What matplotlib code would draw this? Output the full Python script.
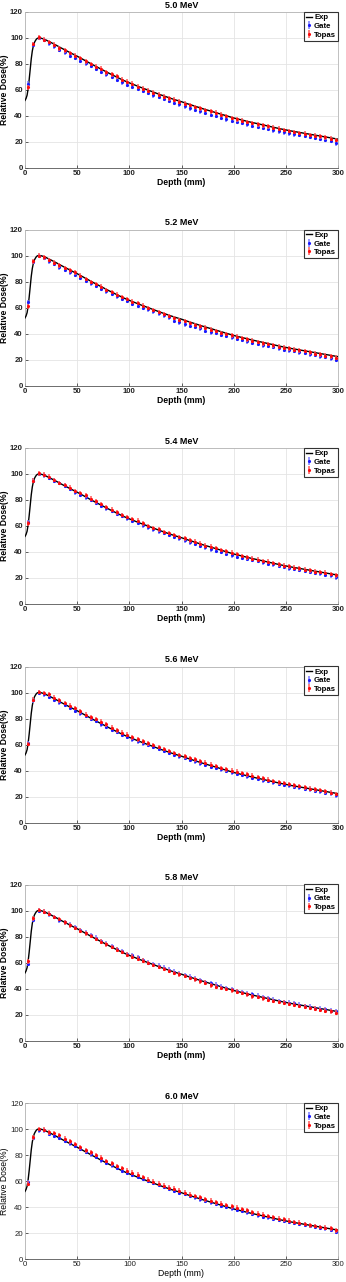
import matplotlib
matplotlib.use("Agg")
import matplotlib.pyplot as plt
import numpy as np

plt.rcParams['font.family'] = ['Liberation Sans', 'DejaVu Sans']

energies = ["5.0 MeV", "5.2 MeV", "5.4 MeV", "5.6 MeV", "5.8 MeV", "6.0 MeV"]

exp_depth = [0, 1, 2, 3, 4, 5, 6, 7, 8, 9, 10, 11, 12, 13, 14, 15, 16, 18, 20,
             25, 30, 35, 40, 45, 50, 55, 60, 65, 70, 75, 80, 85, 90, 95, 100,
             105, 110, 115, 120, 125, 130, 135, 140, 145, 150, 155, 160, 165, 170,
             175, 180, 185, 190, 195, 200, 205, 210, 215, 220, 225, 230, 235, 240,
             245, 250, 255, 260, 265, 270, 275, 280, 285, 290, 295, 300]
exp_dose = [52, 53.5, 56, 61, 68, 76, 84, 90, 94, 96.5, 98, 99.2, 99.8, 100, 100,
            99.9, 99.7, 99.2, 98.5,
            96.5, 94.4, 92.2, 90.1, 88.0, 86.0, 83.8, 81.6, 79.4, 77.3, 75.2, 73.1,
            71.1, 69.1, 67.2, 65.5,
            63.9, 62.3, 60.8, 59.3, 57.8, 56.3, 54.9, 53.5, 52.2, 51.0, 49.6, 48.3,
            47.0, 45.7, 44.5, 43.3, 42.1, 40.9, 39.7, 38.5, 37.5, 36.5, 35.5, 34.6,
            33.7, 32.8, 31.9, 31.0, 30.1, 29.3, 28.5, 27.8, 27.1, 26.4, 25.7, 25.0,
            24.3, 23.6, 22.9, 22.2]

sim_depth = [3, 8, 13, 18, 23, 28, 33, 38, 43, 48, 53, 58, 63, 68, 73, 78, 83, 88,
             93, 98, 103, 108, 113, 118, 123, 128, 133, 138, 143, 148, 153, 158, 163,
             168, 173, 178, 183, 188, 193, 198, 203, 208, 213, 218, 223, 228, 233,
             238, 243, 248, 253, 258, 263, 268, 273, 278, 283, 288, 293, 298]

gate_50 = [65, 95, 100, 98.5, 96, 93.5, 91, 89, 86.5, 85, 82.5, 80.5, 78.5, 76.5, 74,
           72, 70, 68, 66, 64, 62.5, 61, 59.5, 58, 56, 54.5, 53, 51.5, 50, 49, 47.5,
           46, 45, 43.5, 42.5, 41, 40, 38.8, 37.5, 36.5, 35.5, 34.5, 33.5, 32.5, 31.5,
           30.8, 30, 29, 28.3, 27.5, 26.8, 26, 25.3, 24.6, 24, 23.3, 22.5, 21.8, 21, 19]
topas_50 = [62, 95.5, 100.5, 98.8, 97, 94.8, 92, 90.5, 88.5, 86.5, 84.5, 82, 80, 78,
            76.5, 73.5, 72, 70.5, 68, 66.5, 65, 62.5, 61, 59.5, 58, 56.5, 55, 53.5,
            52.5, 51, 49.5, 48.5, 47, 46, 44.5, 43.5, 42.5, 41, 40, 38.5, 37.5, 36.5,
            35.5, 34.5, 33.5, 32.8, 32, 31, 30.3, 29.3, 28.5, 27.8, 27, 26.3, 25.5, 25,
            24.3, 23.5, 22.5, 21.5]

gate_52 = [64, 95, 99.5, 98, 95.5, 93.5, 91, 89, 87, 85, 83, 80.5, 78.5, 76.5, 74.5,
           72.5, 70.5, 68.5, 66.5, 65, 63, 61.5, 60, 58.5, 57, 55.5, 54, 52.5, 50,
           48.5, 47, 46, 45, 44, 42, 41, 40.5, 39, 38, 37, 36, 35, 34, 33, 32, 31,
           30.3, 29.5, 28.5, 27.5, 27, 26.5, 25.5, 25, 24, 23.5, 22.5, 22, 21, 20]
topas_52 = [61, 95.5, 100, 98.5, 96.5, 94.5, 92.5, 90.5, 88.5, 87, 84.5, 82, 79.5, 78,
            76, 73.5, 72, 70, 68, 66.5, 64.5, 63.5, 61.5, 59.5, 58, 56.5, 55, 53.5, 52,
            50.5, 49.5, 48, 46.5, 45.5, 44.5, 43, 42, 40.5, 39.5, 38.5, 37.5, 36.5,
            35.5, 34.5, 33.5, 32.5, 32, 31, 30, 29, 28.5, 27.5, 27, 26.5, 25.5, 24.5,
            24, 23, 22.5, 21.5]

gate_54 = [63, 95, 100, 99, 97, 95, 93, 91, 88.5, 86, 84, 82, 80, 78, 75.5, 73.5, 71.5,
           69.5, 68, 66, 64, 62.5, 60.5, 59, 57.5, 56, 54.5, 53, 51.5, 50.5, 49, 47.5,
           46.5, 45, 43.5, 42, 41, 40, 38.5, 37.5, 36.5, 35.5, 34.5, 34, 33, 32, 31,
           30.5, 29.5, 28.5, 27.5, 27, 26.5, 25.5, 25, 24, 23.5, 22.5, 22, 20.5]
topas_54 = [62, 95, 100.5, 99.5, 98, 95.5, 93, 91.5, 89.5, 87, 85.5, 83.5, 81, 79, 77,
            74.5, 72.5, 70.5, 68.5, 67, 65.5, 64, 62, 60, 58.5, 57.5, 55.5, 54.5, 53,
            51.5, 50.5, 49, 48, 46.5, 45, 44, 43, 41.5, 40.5, 39.5, 38.5, 37, 36, 35, 34,
            33, 32.5, 31.5, 30.5, 29.5, 29, 28, 27.5, 26.5, 26, 25, 24.5, 24, 23, 22]

gate_56 = [61, 94, 100, 98.5, 96.5, 94.5, 92.5, 90.5, 88, 86, 84, 82, 80, 78, 75.5,
           73.5, 71.5, 69.5, 67.5, 66, 64, 62.5, 61, 59.5, 58, 56.5, 55, 53.5, 52, 51,
           49.5, 48, 47, 45.5, 44.5, 43, 42, 41, 39.5, 38.5, 37.5, 36.5, 35.5, 34.5,
           33.5, 32.5, 32, 31, 30, 29, 28.5, 27.5, 27, 26, 25.5, 24.5, 24, 23, 22.5, 21]
topas_56 = [60.5, 94.5, 100.5, 99.5, 98.5, 96, 94, 92, 90, 88, 85.5, 83, 81, 79.5, 77.5,
            75.5, 73, 71, 69, 67.5, 65.5, 64, 62.5, 61, 59.5, 58, 56.5, 55, 53.5, 52,
            51, 49.5, 48.5, 47, 46, 44.5, 43.5, 42, 41, 40, 39, 38, 37, 36, 35, 34, 33,
            32, 31, 30.5, 29.5, 28.5, 28, 27, 26, 25.5, 25, 24, 23, 22]

gate_58 = [59, 93, 100, 99, 97, 95, 92.5, 91, 89, 87, 85, 83, 81, 79, 76.5, 74.5, 72.5,
           70.5, 68.5, 66.5, 65.5, 64, 62, 60, 58.5, 57.5, 56, 54.5, 53, 51.5, 50.5, 49,
           47.5, 46.5, 45, 44, 43, 41.5, 40.5, 39.5, 38, 37, 36, 35.5, 34.5, 33.5, 32.5,
           31.5, 30.5, 29.5, 29, 28.5, 27.5, 26.5, 26, 25, 24.5, 24, 23, 22.5]
topas_58 = [61, 94, 100.5, 99, 97.5, 95, 93.5, 91, 88.5, 86.5, 84.5, 82.5, 80.5, 78, 76,
            74, 72, 70, 68, 66, 64.5, 63, 61.5, 59.5, 58, 56.5, 55, 53.5, 52, 51, 49.5,
            48, 47, 45.5, 44.5, 42.5, 41.5, 40.5, 39.5, 38.5, 37.5, 36.5, 35.5, 34,
            33.5, 32.5, 31.5, 30.5, 29.5, 29, 28, 27.5, 26.5, 26, 25, 24.5, 23.5, 23,
            22.5, 21.5]

gate_60 = [59, 93, 99, 99, 96.5, 94.5, 93, 91, 89, 87, 85, 82.5, 80.5, 78.5, 76, 74, 72,
           70, 68, 66.5, 64.5, 63, 61.5, 60, 58.5, 57, 55.5, 54, 52.5, 51, 50, 48.5,
           47.5, 46, 45, 43.5, 42.5, 41, 40, 39, 38, 37, 36, 35, 33.5, 32.5, 32, 31, 30,
           29.5, 28.5, 28, 27, 26.5, 25.5, 25, 24, 23.5, 22.5, 21]
topas_60 = [58, 93.5, 100, 99.5, 97.5, 97, 95.5, 92.5, 90.5, 88.5, 86, 83.5, 82, 80, 78,
            75.5, 73.5, 71.5, 70, 68, 66.5, 65, 63, 61, 59.5, 58, 56.5, 55, 54, 52.5,
            51, 49.5, 48.5, 47.5, 46, 45, 43.5, 42.5, 41.5, 40.5, 39.5, 38.5, 37.5, 36,
            35, 34, 33, 32, 31, 30.5, 29.5, 28.5, 28, 27, 26, 25.5, 24.5, 24, 23.5, 22]

gate_sets = [gate_50, gate_52, gate_54, gate_56, gate_58, gate_60]
topas_sets = [topas_50, topas_52, topas_54, topas_56, topas_58, topas_60]
gate_err = 1.8
topas_err = 1.8

x_ticks = [0, 50, 100, 150, 200, 250, 300]
y_ticks = [0, 20, 40, 60, 80, 100, 120]

W, H = 346, 1282
fig = plt.figure(figsize=(W / 100, H / 100), dpi=100)

ax_tops = [12, 229.5, 448, 666.5, 884.5, 1103]
ax_h = 156
left, right = 25, 338

for i in range(6):
    top = ax_tops[i]
    ax = fig.add_axes([left / W, 1 - (top + ax_h) / H, (right - left) / W, ax_h / H])
    weight = 'bold' if i < 5 else 'normal'
    ax.plot(exp_depth, exp_dose, color='black', lw=1.0, label='Exp', zorder=3)
    ax.errorbar(sim_depth, gate_sets[i], yerr=gate_err, fmt='.', color='#1a1aff',
                ecolor='#7a7aff', markersize=2.5, elinewidth=1.1, capsize=0,
                label='Gate', zorder=4)
    ax.errorbar(sim_depth, topas_sets[i], yerr=topas_err, fmt='.', color='#ff0a0a',
                ecolor='#ff5a5a', markersize=2.5, elinewidth=1.1, capsize=0,
                label='Topas', zorder=5)
    ax.set_xlim(0, 300)
    ax.set_ylim(0, 120)
    ax.set_xticks(x_ticks)
    ax.set_yticks(y_ticks)
    ax.grid(True, color='#e4e4e4', lw=0.6)
    ax.set_axisbelow(True)
    ax.tick_params(direction='in', length=2, width=0.5, labelsize=5.6, pad=1.5,
                   colors='#222222')
    for lab in ax.get_xticklabels() + ax.get_yticklabels():
        lab.set_fontweight(weight)
    for s in ['left', 'top', 'right']:
        ax.spines[s].set_color('#b5b5b5')
        ax.spines[s].set_linewidth(0.6)
    ax.spines['bottom'].set_color('#555555')
    ax.spines['bottom'].set_linewidth(0.6)
    ax.set_title(energies[i], fontsize=6.5, fontweight='bold', pad=3)
    ax.set_xlabel('Depth (mm)', fontsize=6.2, fontweight=weight, labelpad=1)
    ax.set_ylabel('Relative Dose(%)', fontsize=6.2, fontweight=weight, labelpad=1)
    leg = ax.legend(loc='upper right', fontsize=5.6, frameon=True, fancybox=False,
                    borderaxespad=0.0, handlelength=0.8, handletextpad=0.3,
                    borderpad=0.25, labelspacing=0.15, framealpha=1)
    leg.get_frame().set_edgecolor('#333333')
    leg.get_frame().set_linewidth(0.8)
    for t in leg.get_texts():
        t.set_fontweight('bold')

fig.savefig('out.png', dpi=100)
